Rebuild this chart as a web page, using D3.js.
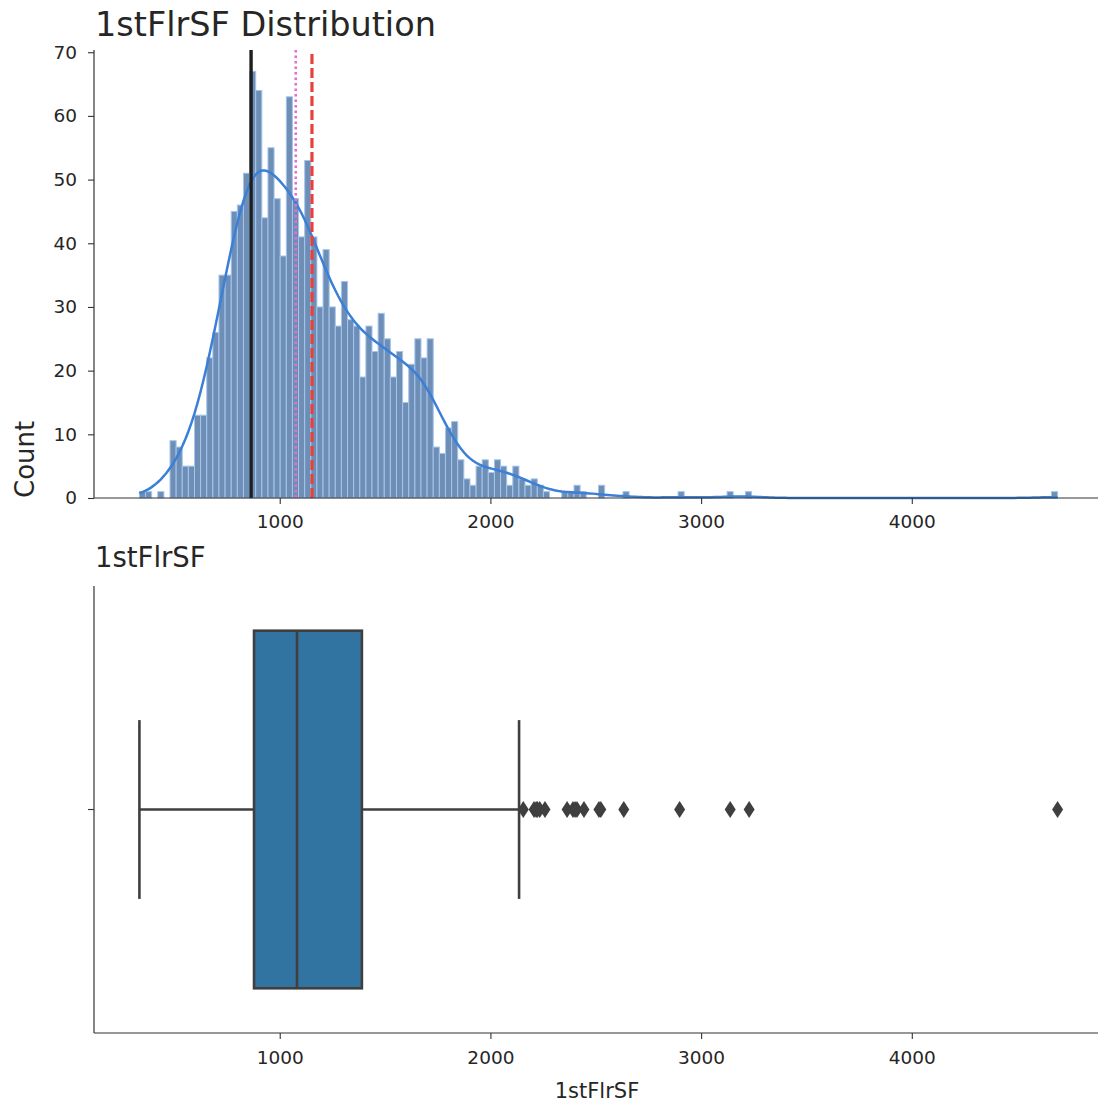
<!DOCTYPE html>
<html>
<head>
<meta charset="utf-8">
<script src="https://cdn.jsdelivr.net/npm/d3@7"></script>
<style>
    body { margin: 0; background: #fff; }
    svg text { font-family: "DejaVu Sans", sans-serif; fill: #262626; }
</style>
</head>
<body>
<div id="chart" style="width:1098px;height:1103px;"></div>
<script>
// histogram: 150 equal bins between the min and max of 1stFlrSF
const binMin = 334;
const binMax = 4692;
const binCounts = [
    1, 1, 0, 1, 0, 9, 8, 5, 5, 13,
    13, 22, 26, 35, 35, 45, 46, 51, 67, 64,
    44, 55, 47, 38, 63, 47, 41, 53, 41, 30,
    39, 30, 27, 34, 28, 27, 19, 27, 23, 29,
    25, 19, 23, 15, 21, 25, 22, 25, 8, 7,
    11, 12, 6, 3, 2, 5, 6, 4, 6, 5,
    2, 5, 3, 2, 3, 2, 1, 0, 0, 1,
    1, 2, 1, 0, 0, 2, 0, 0, 0, 1,
    0, 0, 0, 0, 0, 0, 0, 0, 1, 0,
    0, 0, 0, 0, 0, 0, 1, 0, 0, 1,
    0, 0, 0, 0, 0, 0, 0, 0, 0, 0,
    0, 0, 0, 0, 0, 0, 0, 0, 0, 0,
    0, 0, 0, 0, 0, 0, 0, 0, 0, 0,
    0, 0, 0, 0, 0, 0, 0, 0, 0, 0,
    0, 0, 0, 0, 0, 0, 0, 0, 0, 1
];
const xTicks = [1000, 2000, 3000, 4000];
const yTicks = [0, 10, 20, 30, 40, 50, 60, 70];

// mode, median, mean markers
const refNames = ["mean", "median", "mode"];
const refValues = [1153, 1076, 864];
const refColors = ["#e8403f", "#e26fd3", "#1e1e1e"];
const refDashes = ["10,4", "2.5,3", null];
const refWidths = [3.2, 2.6, 3.4];

// boxplot: whisker low, Q1, median, Q3, whisker high
const boxValues = [334, 878, 1082, 1390, 2136];
const outliers = [2156, 2207, 2217, 2223, 2234, 2259, 2364, 2392, 2402, 2411, 2444, 2515, 2524, 2633, 2898, 3138, 3228, 4692];

function draw_chart() {
    const svg = d3.select("#chart").append("svg")
        .attr("width", 1098)
        .attr("height", 1103);

    const x = d3.scaleLinear().domain([116.1, 4909.9]).range([93.5, 1103.5]);

    // ---------- top: histogram ----------
    const y = d3.scaleLinear().domain([0, 70.35]).range([498, 50]);
    const binWidth = (binMax - binMin) / binCounts.length;
    const bins = binCounts.map((c, i) => ({ x0: binMin + i * binWidth, x1: binMin + (i + 1) * binWidth, count: c }));

    svg.append("g").selectAll("rect")
        .data(bins.filter(d => d.count > 0))
        .join("rect")
        .attr("x", d => x(d.x0))
        .attr("y", d => y(d.count))
        .attr("width", d => x(d.x1) - x(d.x0))
        .attr("height", d => y(0) - y(d.count))
        .attr("fill", "#6e8eb6")
        .attr("stroke", "#a2c6ee")
        .attr("stroke-width", 1);

    // gaussian kde (scott bandwidth) scaled to counts
    const centers = bins.map(d => (d.x0 + d.x1) / 2);
    const total = d3.sum(binCounts);
    const avg = d3.sum(binCounts, (c, i) => c * centers[i]) / total;
    const sd = Math.sqrt(d3.sum(binCounts, (c, i) => c * (centers[i] - avg) ** 2) / (total - 1));
    const bw = sd * Math.pow(total, -0.2);
    const kde = d3.range(0, 301).map(k => {
        const v = binMin + k * (binMax - binMin) / 300;
        const dens = d3.sum(binCounts, (c, i) => c * Math.exp(-0.5 * ((v - centers[i]) / bw) ** 2));
        return [v, dens / (bw * Math.sqrt(2 * Math.PI)) * binWidth];
    });

    svg.append("path")
        .datum(kde)
        .attr("fill", "none")
        .attr("stroke", "#3b7fd6")
        .attr("stroke-width", 2.5)
        .attr("d", d3.line().x(d => x(d[0])).y(d => y(d[1])));

    svg.append("g").selectAll("line")
        .data(refNames)
        .join("line")
        .attr("x1", (d, i) => x(refValues[i]))
        .attr("x2", (d, i) => x(refValues[i]))
        .attr("y1", y(0))
        .attr("y2", 50)
        .attr("stroke", (d, i) => refColors[i])
        .attr("stroke-width", (d, i) => refWidths[i])
        .attr("stroke-dasharray", (d, i) => refDashes[i]);

    const yAxis = svg.append("g")
        .attr("transform", "translate(94,0)")
        .call(d3.axisLeft(y).tickValues(yTicks).tickSize(6).tickPadding(11));
    const xAxisTop = svg.append("g")
        .attr("transform", "translate(0,498)")
        .call(d3.axisBottom(x).tickValues(xTicks).tickSize(6).tickPadding(11).tickFormat(d3.format("d")));

    svg.append("text")
        .attr("x", 95)
        .attr("y", 36)
        .attr("font-size", 33.5)
        .text("1stFlrSF Distribution");

    svg.append("text")
        .attr("transform", "translate(34,498) rotate(-90)")
        .attr("font-size", 26)
        .text("Count");

    // ---------- bottom: boxplot ----------
    const yb = d3.scaleBand().domain(["1stFlrSF"]).range([586, 1033]);
    const cy = yb("1stFlrSF") + yb.bandwidth() / 2;
    const boxH = yb.bandwidth() * 0.8;
    const lineColor = "#3f3f3f";

    const box = svg.append("g");
    box.append("line")
        .attr("x1", x(boxValues[0])).attr("x2", x(boxValues[1]))
        .attr("y1", cy).attr("y2", cy);
    box.append("line")
        .attr("x1", x(boxValues[3])).attr("x2", x(boxValues[4]))
        .attr("y1", cy).attr("y2", cy);
    box.selectAll(".cap")
        .data([boxValues[0], boxValues[4]])
        .join("line")
        .attr("class", "cap")
        .attr("x1", d => x(d)).attr("x2", d => x(d))
        .attr("y1", cy - boxH / 4).attr("y2", cy + boxH / 4);
    box.append("rect")
        .attr("x", x(boxValues[1]))
        .attr("y", cy - boxH / 2)
        .attr("width", x(boxValues[3]) - x(boxValues[1]))
        .attr("height", boxH)
        .attr("fill", "#3274a1");
    box.append("line")
        .attr("x1", x(boxValues[2])).attr("x2", x(boxValues[2]))
        .attr("y1", cy - boxH / 2).attr("y2", cy + boxH / 2);
    box.selectAll("line, rect")
        .attr("stroke", lineColor)
        .attr("stroke-width", 2.6);

    svg.append("g").selectAll("path")
        .data(outliers)
        .join("path")
        .attr("transform", d => `translate(${x(d)},${cy})`)
        .attr("d", "M0,-8.5L5.5,0L0,8.5L-5.5,0Z")
        .attr("fill", lineColor);

    const ybAxis = svg.append("g")
        .attr("transform", "translate(94,0)")
        .call(d3.axisLeft(yb).tickSize(6).tickFormat(""));
    const xAxisBottom = svg.append("g")
        .attr("transform", "translate(0,1033)")
        .call(d3.axisBottom(x).tickValues(xTicks).tickSize(6).tickPadding(12).tickFormat(d3.format("d")));

    svg.append("text")
        .attr("x", 95)
        .attr("y", 567)
        .attr("font-size", 27.5)
        .text("1stFlrSF");

    svg.append("text")
        .attr("x", 597)
        .attr("y", 1098)
        .attr("text-anchor", "middle")
        .attr("font-size", 21)
        .text("1stFlrSF");

    // matplotlib-like axis look
    [yAxis, xAxisTop, ybAxis, xAxisBottom].forEach(g => {
        g.select(".domain").attr("stroke", "#333").attr("stroke-width", 1.2);
        g.selectAll(".tick line").attr("stroke", "#333").attr("stroke-width", 1.1);
        g.selectAll(".tick text")
            .attr("font-family", "DejaVu Sans, sans-serif")
            .attr("font-size", 18.5)
            .attr("fill", "#262626");
    });
    yAxis.select(".domain").attr("d", "M0,50V498");
    xAxisTop.select(".domain").attr("d", "M94,0H1105");
    ybAxis.select(".domain").attr("d", "M0,586V1033");
    xAxisBottom.select(".domain").attr("d", "M94,0H1105");
}

draw_chart();
</script>
</body>
</html>
